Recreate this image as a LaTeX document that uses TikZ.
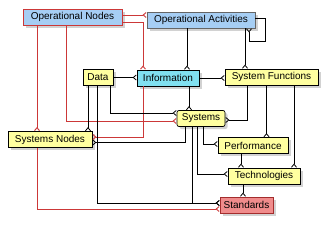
\documentclass[tikz,border=0pt]{standalone}
\usepackage{fontspec}
\setmainfont{Liberation Sans}
\usetikzlibrary{arrows.meta,shadows}
\definecolor{boxblue}{RGB}{166,206,244}
\definecolor{boxcyan}{RGB}{128,224,240}
\definecolor{boxyellow}{RGB}{255,255,160}
\definecolor{boxpink}{RGB}{240,140,140}
\definecolor{linered}{RGB}{204,56,56}

\begin{document}
\begin{tikzpicture}[x=1pt, y=-1pt,
  ent/.style={draw, rectangle, line width=0.7pt, minimum height=16pt, inner sep=0pt, font=\fontsize{10}{12}\selectfont,
    drop shadow={shadow xshift=2.5pt, shadow yshift=-2.5pt, fill=gray!70}},
  rel/.style={draw=black, line width=0.8pt},
  redrel/.style={draw=linered, line width=0.9pt},
  cf/.style={-{Straight Barb[reversed,length=3pt,width=5pt]}}
]
\useasboundingbox (0,0) rectangle (330,225);

\node[ent, fill=boxblue, draw=linered, minimum width=99pt] (opnodes) at (72.5,17) {Operational Nodes};
\node[ent, fill=boxblue, draw=black!60, minimum width=108pt] (opact) at (201,20) {Operational Activities};
\node[ent, fill=boxyellow, minimum width=30pt] (data) at (98,77.5) {Data};
\node[ent, fill=boxcyan, minimum width=62pt] (info) at (168,78) {Information};
\node[ent, fill=boxyellow, minimum width=93pt] (sysfun) at (271.5,77) {System Functions};
\node[ent, fill=boxyellow, rounded corners=2pt, minimum width=48pt] (sys) at (201,118.5) {Systems};
\node[ent, fill=boxyellow, minimum width=70pt] (perf) at (253,145.5) {Performance};
\node[ent, fill=boxyellow, minimum width=72pt] (tech) at (264,176) {Technologies};
\node[ent, fill=boxpink, draw=linered!80!black, minimum width=53pt] (std) at (246.5,205) {Standards};
\node[ent, fill=boxyellow, minimum width=84pt] (sysnodes) at (50,139.5) {Systems Nodes};

% red relations
\draw[redrel, cf] ([yshift=2pt]opnodes.east) -- ([yshift=2pt]opnodes.east -| opact.west);
\draw[redrel, cf] ([yshift=-5pt]opnodes.east) -| ([xshift=-25pt]info.north);
\draw[redrel, cf] ([xshift=-25pt]info.south) |- ([yshift=2.5pt]sysnodes.east);
\draw[redrel, cf] ([xshift=-13pt]sysnodes.north |- opnodes.south) -- ([xshift=-13pt]sysnodes.north);
\draw[redrel, cf] ([xshift=-13pt]sysnodes.south) |- ([yshift=-4pt]std.west);
\draw[redrel, cf] ([xshift=-6.5pt]opnodes.south) |- ([yshift=-2.5pt]sys.west);

% black relations
\draw[rel, cf] ([xshift=-14pt]opact.south) -- ([xshift=-14pt]opact.south |- info.north);
\draw[rel, cf] ([xshift=44pt]opact.south) -- ([xshift=44pt]opact.south |- sysfun.north);
\draw[rel, cf] ([yshift=2pt]opact.east) -- ++(10,0) -- ++(0,23) -| ([xshift=48pt]opact.south);
\draw[rel, cf] (data.east) -- (data.east -| info.west);
\draw[rel, cf] (info.east) -- (info.east -| sysfun.west);
\draw[rel, cf] ([xshift=21pt]info.south) -- ([xshift=21pt]info.south |- sys.north);
\draw[rel, cf] ([xshift=12pt]data.south) |- ([yshift=5.5pt]sys.west);
\draw[rel, cf] ([xshift=-10pt]data.south) -- ([xshift=-10pt]data.south |- sysnodes.north);
\draw[rel, cf] ([xshift=-1pt]data.south) |- ([yshift=2pt]std.west);
\draw[rel, cf] ([xshift=-16pt]sys.south) |- ([yshift=-3pt]sysnodes.east);
\draw[rel, cf] ([xshift=-9pt]sys.south) |- ([yshift=2pt]std.west);
\draw[rel, cf] ([xshift=-4pt]sys.south) |- ([yshift=2pt]tech.west);
\draw[rel, cf] ([xshift=2pt]sys.south) |- ([yshift=1.5pt]perf.west);
\draw[rel, cf] ([xshift=-24.5pt]sysfun.south) |- ([yshift=-1.5pt]sys.east);
\draw[rel, cf] ([xshift=-5pt]sysfun.south) -- ([xshift=-5pt]sysfun.south |- perf.north);
\draw[rel, cf] ([xshift=22.5pt]sysfun.south) -- ([xshift=22.5pt]sysfun.south |- tech.north);
\draw[rel, cf] ([xshift=-12pt]perf.south) -- ([xshift=-12pt]perf.south |- tech.north);
\draw[rel, cf] ([xshift=-21pt]tech.south) -- ([xshift=-21pt]tech.south |- std.north);
\end{tikzpicture}
\end{document}
